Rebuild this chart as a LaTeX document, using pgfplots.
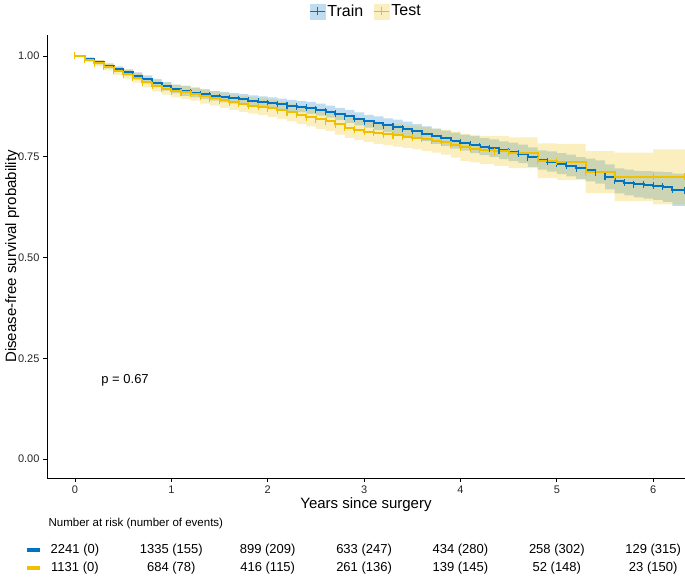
\documentclass[border=0pt]{standalone}
\usepackage{pgfplots}
\pgfplotsset{compat=1.18}
\usepackage{pgfplotstable}
\usepgfplotslibrary{fillbetween}
\usepackage{fontspec}
\setmainfont{Liberation Sans}

\definecolor{trainblue}{HTML}{0073C2}
\definecolor{testyellow}{HTML}{EFC000}

% Kaplan-Meier estimate with confidence band
\pgfplotstableread{
t    s     lo    hi
0    1.000 1.000 1.000
0.1  0.992 0.988 0.996
0.2  0.984 0.979 0.989
0.3  0.975 0.969 0.981
0.4  0.967 0.960 0.974
0.5  0.959 0.951 0.967
0.6  0.950 0.941 0.959
0.7  0.942 0.932 0.952
0.8  0.933 0.923 0.943
0.9  0.925 0.914 0.936
1.0  0.918 0.907 0.929
1.1  0.913 0.901 0.925
1.2  0.909 0.897 0.921
1.3  0.905 0.893 0.917
1.4  0.901 0.889 0.913
1.5  0.898 0.885 0.911
1.6  0.895 0.882 0.908
1.7  0.892 0.879 0.905
1.8  0.889 0.876 0.902
1.9  0.886 0.872 0.900
2.0  0.883 0.869 0.897
2.1  0.880 0.866 0.894
2.2  0.877 0.863 0.891
2.3  0.874 0.860 0.888
2.4  0.871 0.856 0.886
2.5  0.867 0.852 0.882
2.6  0.862 0.847 0.877
2.7  0.856 0.841 0.871
2.8  0.850 0.834 0.866
2.9  0.844 0.828 0.860
3.0  0.838 0.822 0.854
3.1  0.833 0.816 0.850
3.2  0.828 0.811 0.845
3.3  0.824 0.806 0.842
3.4  0.819 0.801 0.837
3.5  0.813 0.795 0.831
3.6  0.807 0.789 0.825
3.7  0.801 0.782 0.820
3.8  0.796 0.777 0.815
3.9  0.790 0.770 0.810
4.0  0.785 0.765 0.805
4.1  0.780 0.759 0.801
4.2  0.775 0.754 0.796
4.3  0.771 0.749 0.793
4.4  0.766 0.744 0.788
4.5  0.762 0.739 0.785
4.6  0.757 0.734 0.780
4.7  0.749 0.725 0.773
4.8  0.742 0.718 0.766
4.9  0.738 0.713 0.763
5.0  0.733 0.707 0.759
5.1  0.728 0.701 0.755
5.2  0.722 0.695 0.749
5.3  0.717 0.689 0.745
5.4  0.712 0.683 0.741
5.5  0.700 0.669 0.731
5.6  0.690 0.659 0.721
5.7  0.686 0.654 0.718
5.8  0.682 0.649 0.715
5.9  0.680 0.646 0.714
6.0  0.678 0.643 0.713
6.1  0.675 0.638 0.712
6.2  0.668 0.628 0.708
6.33 0.665 0.625 0.705
}\train

\pgfplotstableread{
t    s     lo    hi
0    1.000 1.000 1.000
0.1  0.991 0.985 0.997
0.2  0.982 0.974 0.990
0.3  0.973 0.964 0.982
0.4  0.963 0.953 0.973
0.5  0.955 0.944 0.966
0.6  0.946 0.934 0.958
0.7  0.935 0.922 0.948
0.8  0.926 0.912 0.940
0.9  0.919 0.904 0.934
1.0  0.913 0.897 0.929
1.1  0.910 0.893 0.927
1.2  0.906 0.889 0.923
1.3  0.900 0.882 0.918
1.4  0.895 0.877 0.913
1.5  0.890 0.871 0.909
1.6  0.885 0.866 0.904
1.7  0.881 0.861 0.901
1.8  0.877 0.857 0.897
1.9  0.874 0.853 0.895
2.0  0.870 0.849 0.891
2.1  0.865 0.843 0.887
2.2  0.860 0.838 0.882
2.3  0.854 0.831 0.877
2.4  0.848 0.825 0.871
2.5  0.843 0.819 0.867
2.6  0.838 0.814 0.862
2.7  0.830 0.805 0.855
2.8  0.822 0.797 0.847
2.9  0.817 0.791 0.843
3.0  0.812 0.786 0.838
3.1  0.809 0.782 0.836
3.2  0.806 0.779 0.833
3.3  0.803 0.775 0.831
3.4  0.800 0.772 0.828
3.5  0.797 0.768 0.826
3.6  0.794 0.764 0.824
3.7  0.790 0.760 0.820
3.8  0.786 0.755 0.817
3.9  0.780 0.748 0.812
4.0  0.773 0.740 0.806
4.1  0.770 0.736 0.804
4.2  0.767 0.732 0.802
4.35 0.764 0.727 0.801
4.5  0.760 0.722 0.798
4.8  0.740 0.697 0.783
5.0  0.737 0.692 0.782
5.3  0.712 0.660 0.764
5.6  0.700 0.640 0.760
6.0  0.700 0.632 0.768
6.33 0.700 0.632 0.768
}\test

% number at risk (number of events)
\pgfplotstableread[col sep=comma]{
t,y,lab
0,-0.226,2241 (0)
1,-0.226,1335 (155)
2,-0.226,899 (209)
3,-0.226,633 (247)
4,-0.226,434 (280)
5,-0.226,258 (302)
6,-0.226,129 (315)
0,-0.270,1131 (0)
1,-0.270,684 (78)
2,-0.270,416 (115)
3,-0.270,261 (136)
4,-0.270,139 (145)
5,-0.270,52 (148)
6,-0.270,23 (150)
}\risk

\begin{document}
\begin{tikzpicture}
\begin{axis}[
  at={(47pt,102pt)}, anchor=south west,
  width=638pt, height=443pt, scale only axis,
  xmin=-0.29, xmax=6.33, ymin=-0.047, ymax=1.052,
  axis lines=left, axis line style={-, line width=0.8pt},
  tick align=outside, major tick length=4pt,
  tick style={line width=0.8pt, black},
  xtick={0,1,2,3,4,5,6}, ytick={0,0.25,0.5,0.75,1},
  y tick label style={/pgf/number format/fixed,
    /pgf/number format/fixed zerofill, /pgf/number format/precision=2},
  /pgf/number format/assume math mode=true,
  ticklabel style={font=\fontsize{11}{13}\selectfont, text=black!85},
  xlabel={Years since surgery},
  ylabel={Disease-free survival probability},
  label style={font=\fontsize{15}{18}\selectfont},
  xlabel style={yshift=3pt},
  ylabel shift=-8pt,
  clip=false,
  legend style={at={(0.5,1)}, anchor=south, yshift=13pt, draw=none,
    legend columns=-1, font=\fontsize{16}{19}\selectfont,
    /tikz/every even column/.append style={column sep=8pt}},
]
\addlegendimage{legend image code/.code={
  \fill[trainblue!25] (0pt,-7.5pt) rectangle (15pt,7.5pt);
  \draw[trainblue, line width=1.2pt] (0pt,0pt) -- (15pt,0pt);
  \draw[trainblue, line width=1.2pt] (7.5pt,-4pt) -- (7.5pt,4pt);}}
\addlegendentry{Train}
\addlegendimage{legend image code/.code={
  \fill[testyellow!25] (0pt,-7.5pt) rectangle (15pt,7.5pt);
  \draw[testyellow, line width=1.2pt] (0pt,0pt) -- (15pt,0pt);
  \draw[testyellow, line width=1.2pt] (7.5pt,-4pt) -- (7.5pt,4pt);}}
\addlegendentry{Test}

% confidence bands
\addplot[name path=trhi, draw=none, const plot, forget plot] table[x=t, y=hi]{\train};
\addplot[name path=trlo, draw=none, const plot, forget plot] table[x=t, y=lo]{\train};
\addplot[name path=tehi, draw=none, const plot, forget plot] table[x=t, y=hi]{\test};
\addplot[name path=telo, draw=none, const plot, forget plot] table[x=t, y=lo]{\test};
\addplot[fill=trainblue, fill opacity=0.25, draw=none, forget plot] fill between[of=trhi and trlo];
\addplot[fill=testyellow, fill opacity=0.25, draw=none, forget plot] fill between[of=tehi and telo];

% survival curves with censoring ticks
\addplot[trainblue, line width=2pt, const plot, mark=|, mark size=3.5pt,
  mark options={line width=1.1pt}, forget plot] table[x=t, y=s]{\train};
\addplot[testyellow, line width=2pt, const plot, mark=|, mark size=3.5pt,
  mark options={line width=1.1pt}, forget plot] table[x=t, y=s]{\test};

\node[font=\fontsize{13}{15}\selectfont] at (axis cs:0.52,0.196) {p = 0.67};

% risk table
\node[anchor=west, font=\fontsize{11.5}{13}\selectfont] at (axis cs:-0.31,-0.160)
  {Number at risk (number of events)};
\draw[trainblue, line width=4pt] (axis cs:-0.50,-0.226) -- (axis cs:-0.36,-0.226);
\draw[testyellow, line width=4pt] (axis cs:-0.50,-0.270) -- (axis cs:-0.36,-0.270);
\addplot[only marks, mark=*, mark size=0pt, mark options={draw=none, fill=none},
  forget plot, point meta=explicit symbolic, nodes near coords,
  every node near coord/.append style={anchor=center, yshift=0pt,
    font=\fontsize{13}{15}\selectfont, text=black}]
  table[x=t, y=y, meta=lab]{\risk};
\end{axis}
\pgfresetboundingbox
\path (0pt,0pt) rectangle (685pt,580pt);
\end{tikzpicture}
\end{document}
